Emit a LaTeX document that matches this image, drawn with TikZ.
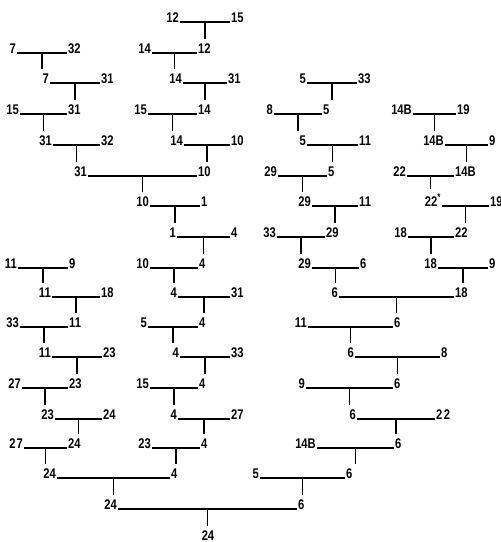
\documentclass[tikz,border=0pt]{standalone}
\usepackage{fontspec}
\setmainfont{Liberation Sans}[FakeStretch=0.8]
\usetikzlibrary{calc}
\tikzset{
  lbl/.style={font=\fontsize{14}{15}\selectfont\bfseries, inner xsep=1pt, inner ysep=1pt},
  ln/.style={line width=1.5pt},
  tk/.style={line width=1.6pt, shorten >=3.5pt}
}
\newcommand\mt[6]{%
  \coordinate (#1a) at (#3,#2);
  \coordinate (#1b) at (#4,#2);
  \coordinate (#1m) at ($(#1a)!0.5!(#1b)$);
  \node[lbl,anchor=base east] (#1l) at (#1a) {#5};
  \node[lbl,anchor=base west] (#1r) at (#1b) {#6};
  \draw[ln] (#1a) -- (#1b);
}
\newcommand\tk[2]{\draw[tk] (#1m) -- (#1m |- #2.north);}
\begin{document}
\begin{tikzpicture}[x=1pt,y=-1pt]
\useasboundingbox (0,0) rectangle (501,542);
% left-centre column
\mt{A1}{22}{180}{230}{12}{15}
\mt{A2}{53}{152}{197}{14}{12}
\mt{A3}{83}{183}{227}{14}{31}
\mt{A4}{114}{148}{197}{15}{14}
\mt{A5}{145}{184}{230}{14}{10}
\mt{A6}{176}{88}{197}{31}{10}
\mt{A7}{53}{17}{67}{7}{32}
\mt{A8}{83}{50}{100}{7}{31}
\mt{A9}{114}{20}{67}{15}{31}
\mt{A10}{145}{53}{100}{31}{32}
\mt{A11}{206}{150}{200}{10}{1}
\mt{A12}{237}{177}{230}{1}{4}
\mt{A13}{268}{150}{198}{10}{4}
\mt{A14}{297}{178}{230}{4}{31}
\mt{A15}{327}{148}{198}{5}{4}
\mt{A16}{357}{180}{230}{4}{33}
\mt{A17}{388}{150}{198}{15}{4}
\mt{A18}{419}{178}{230}{4}{27}
\mt{A19}{448}{152}{200}{23}{4}
\mt{A20}{478}{57}{170}{24}{4}
\mt{A21}{509}{118}{297}{24}{6}
\mt{A22}{268}{18}{68}{11}{9}
\mt{A23}{297}{52}{100}{11}{18}
\mt{A24}{327}{20}{68}{33}{11}
\mt{A25}{357}{52}{102}{11}{23}
\mt{A26}{388}{22}{68}{27}{23}
\mt{A27}{419}{55}{102}{23}{24}
\mt{A28}{448}{24}{67}{2\kern1pt7}{24}
% right side
\mt{A29}{83}{307}{357}{5}{33}
\mt{A30}{114}{274}{322}{8}{5}
\mt{A31}{145}{307}{358}{5}{11}
\mt{A32}{176}{278}{327}{29}{5}
\mt{A33}{206}{312}{358}{29}{11}
\mt{A34}{237}{277}{325}{33}{29}
\mt{A35}{268}{312}{359}{29}{6}
\mt{A36}{297}{339}{454}{6}{18}
\mt{A37}{327}{308}{393}{11}{6}
\mt{A38}{357}{355}{440}{6}{8}
\mt{A39}{388}{306}{393}{9}{6}
\mt{A40}{419}{357}{435}{6}{2\kern1.5pt2}
\mt{A41}{448}{317}{394}{14B}{6}
\mt{A42}{478}{260}{345}{5}{6}
\mt{A43}{114}{413}{456}{14B}{19}
\mt{A44}{145}{445}{488}{14B}{9}
\mt{A45}{176}{407}{454}{22}{14B}
\mt{A46}{206}{442}{489}{22\textsuperscript{*}}{19}
\mt{A47}{237}{408}{454}{18}{22}
\mt{A48}{268}{438}{488}{18}{9}
\node[lbl,anchor=base] (fin) at (208,540) {24};
% ticks to winners
\tk{A1}{A2r}
\tk{A2}{A3l}
\tk{A3}{A4r}
\tk{A4}{A5l}
\tk{A5}{A6r}
\tk{A6}{A11l}
\tk{A7}{A8l}
\tk{A8}{A9r}
\tk{A9}{A10l}
\tk{A10}{A6l}
\tk{A11}{A12l}
\tk{A12}{A13r}
\tk{A13}{A14l}
\tk{A14}{A15r}
\tk{A15}{A16l}
\tk{A16}{A17r}
\tk{A17}{A18l}
\tk{A18}{A19r}
\tk{A19}{A20r}
\tk{A20}{A21l}
\tk{A21}{fin}
\tk{A22}{A23l}
\tk{A23}{A24r}
\tk{A24}{A25l}
\tk{A25}{A26r}
\tk{A26}{A27l}
\tk{A27}{A28r}
\tk{A28}{A20l}
\tk{A29}{A30r}
\tk{A30}{A31l}
\tk{A31}{A32r}
\tk{A32}{A33l}
\tk{A33}{A34r}
\tk{A34}{A35l}
\tk{A35}{A36l}
\tk{A36}{A37r}
\tk{A37}{A38l}
\tk{A38}{A39r}
\tk{A39}{A40l}
\tk{A40}{A41r}
\tk{A41}{A42r}
\tk{A42}{A21r}
\tk{A43}{A44l}
\tk{A44}{A45r}
\tk{A45}{A46l}
\tk{A46}{A47r}
\tk{A47}{A48l}
\tk{A48}{A36r}
\end{tikzpicture}
\end{document}
